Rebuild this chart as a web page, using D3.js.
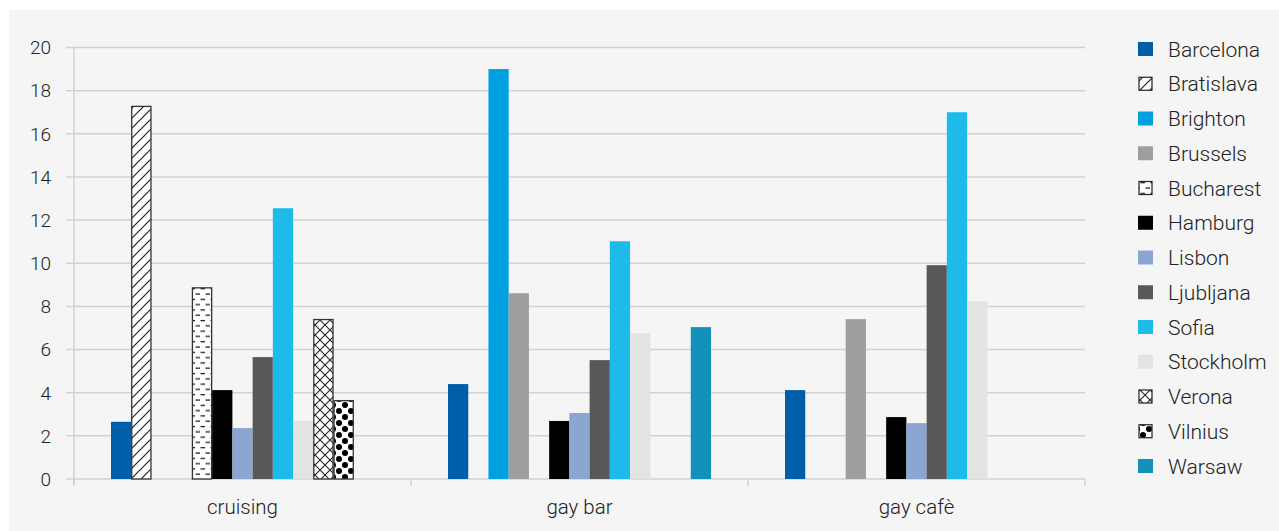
<!DOCTYPE html>
<html><head><meta charset="utf-8">
<script src="https://cdn.jsdelivr.net/npm/d3@7"></script>
<style>
body{margin:0;background:#fff;}
svg{display:block;}
text{font-family:Roboto,"DejaVu Sans",sans-serif;font-weight:300;fill:#222;}
</style></head>
<body>
<script>
const categories = ["cruising", "gay bar", "gay cafè"];
const cities = ["Barcelona","Bratislava","Brighton","Brussels","Bucharest","Hamburg","Lisbon","Ljubljana","Sofia","Stockholm","Verona","Vilnius","Warsaw"];
const barcelona  = [2.65, 4.4, 4.12];
const bratislava = [17.27, 0, 0];
const brighton   = [0, 19.0, 0];
const brussels   = [0, 8.61, 7.41];
const bucharest  = [8.86, 0, 0];
const hamburg    = [4.12, 2.69, 2.87];
const lisbon     = [2.36, 3.06, 2.59];
const ljubljana  = [5.65, 5.51, 9.91];
const sofia      = [12.55, 11.02, 17.0];
const stockholm  = [2.69, 6.76, 8.24];
const verona     = [7.39, 0, 0];
const vilnius    = [3.63, 0, 0];
const warsaw     = [0, 7.04, 0];
const yTicks = [0,2,4,6,8,10,12,14,16,18,20];

const seriesValues = [barcelona,bratislava,brighton,brussels,bucharest,hamburg,lisbon,ljubljana,sofia,stockholm,verona,vilnius,warsaw];
const fills = {
  Barcelona:"#005EA8", Bratislava:"url(#pDiag)", Brighton:"#009FE0", Brussels:"#9D9EA0",
  Bucharest:"url(#pDash)", Hamburg:"#000000", Lisbon:"#8BA6D1", Ljubljana:"#58585A",
  Sofia:"#1CBBE9", Stockholm:"#E2E3E3", Verona:"url(#pCross)", Vilnius:"url(#pDots)", Warsaw:"#1291BA"
};
const patterned = new Set(["Bratislava","Bucharest","Verona","Vilnius"]);

const W = 1279, H = 531;
const svg = d3.select("body").append("svg").attr("width", W).attr("height", H);
svg.append("rect").attr("x",9).attr("y",10).attr("width",W-9).attr("height",H-10).attr("fill","#F5F5F5");

const defs = svg.append("defs");
let p = defs.append("pattern").attr("id","pDiag").attr("patternUnits","userSpaceOnUse").attr("width",10).attr("height",10);
p.append("rect").attr("width",10).attr("height",10).attr("fill","#fff");
p.append("path").attr("d","M-2,12 L12,-2 M-2,2 L2,-2 M8,12 L12,8").attr("stroke","#222").attr("stroke-width",1.2);
p = defs.append("pattern").attr("id","pDash").attr("patternUnits","userSpaceOnUse").attr("width",10).attr("height",10.6);
p.append("rect").attr("width",10).attr("height",10.6).attr("fill","#fff");
p.append("path").attr("d","M0.5,2.5 L5,2.5 M5.5,7.8 L10,7.8").attr("stroke","#111").attr("stroke-width",1.2);
p = defs.append("pattern").attr("id","pCross").attr("patternUnits","userSpaceOnUse").attr("width",10).attr("height",10);
p.append("rect").attr("width",10).attr("height",10).attr("fill","#fff");
p.append("path").attr("d","M0,0 L10,10 M10,0 L0,10").attr("stroke","#222").attr("stroke-width",1.1);
p = defs.append("pattern").attr("id","pDots").attr("patternUnits","userSpaceOnUse").attr("width",12).attr("height",12);
p.append("rect").attr("width",12).attr("height",12).attr("fill","#fff");
p.append("circle").attr("cx",3).attr("cy",3).attr("r",3).attr("fill","#000");
p.append("circle").attr("cx",9).attr("cy",9).attr("r",3).attr("fill","#000");

const mLeft = 74, mRight = 1085, mTop = 47.5, mBottom = 479;
const y = d3.scaleLinear().domain([0,20]).range([mBottom, mTop]);
const x0 = d3.scaleBand().domain(categories).range([mLeft, mRight]).paddingInner(0).paddingOuter(0);
const groupPad = 37;
const x1 = d3.scaleBand().domain(cities).range([groupPad, x0.bandwidth()-groupPad]).padding(0);

svg.append("g").selectAll("line").data(yTicks).join("line")
  .attr("x1", mLeft-8).attr("x2", mRight).attr("y1", d=>y(d)).attr("y2", d=>y(d))
  .attr("stroke","#D2D2D2").attr("stroke-width",1.5);
svg.append("line").attr("x1",mLeft).attr("x2",mLeft).attr("y1",mTop).attr("y2",mBottom+7).attr("stroke","#D2D2D2").attr("stroke-width",1.5);
svg.append("g").selectAll("text").data(yTicks).join("text")
  .attr("x", 51).attr("y", d=>y(d)).attr("dy","0.36em").attr("text-anchor","end")
  .attr("font-size",19).text(d=>d);
const bounds = categories.map(c=>x0(c)).concat([mRight]);
svg.append("g").selectAll("line").data(bounds).join("line")
  .attr("x1",d=>d).attr("x2",d=>d).attr("y1",mBottom).attr("y2",mBottom+7)
  .attr("stroke","#D2D2D2").attr("stroke-width",1.5);
svg.append("g").selectAll("text").data(categories).join("text")
  .attr("x", d=>x0(d)+x0.bandwidth()/2).attr("y", 507).attr("dy","0.36em").attr("text-anchor","middle")
  .attr("font-size",20.5).text(d=>d);

const barData = [];
categories.forEach((c,ci)=>{
  cities.forEach((s,si)=>{
    const v = seriesValues[si][ci];
    if (v>0) barData.push({c, s, v});
  });
});
svg.append("g").selectAll("rect").data(barData).join("rect")
  .attr("x", d=>x0(d.c)+x1(d.s) + (patterned.has(d.s)?0.5:0))
  .attr("y", d=>y(d.v))
  .attr("width", d=>x1.bandwidth() - (patterned.has(d.s)?1:0))
  .attr("height", d=>mBottom - y(d.v))
  .attr("fill", d=>fills[d.s])
  .attr("stroke", d=>patterned.has(d.s)?"#333":"none")
  .attr("stroke-width", 1.3);

const lg = svg.append("g");
const ly = d3.scalePoint().domain(cities).range([49, 466]);
lg.selectAll("rect").data(cities).join("rect")
  .attr("x", d=>patterned.has(d)?1139:1138).attr("y", d=>ly(d)-7 + (patterned.has(d)?0.5:0))
  .attr("width", d=>patterned.has(d)?13:15).attr("height", d=>patterned.has(d)?13:14)
  .attr("fill", d=>fills[d]).attr("stroke", d=>patterned.has(d)?"#222":"none").attr("stroke-width",1.2);
lg.selectAll("text").data(cities).join("text")
  .attr("x",1168).attr("y", d=>ly(d)).attr("dy","0.36em").attr("font-size",21).text(d=>d);
</script>
</body></html>
